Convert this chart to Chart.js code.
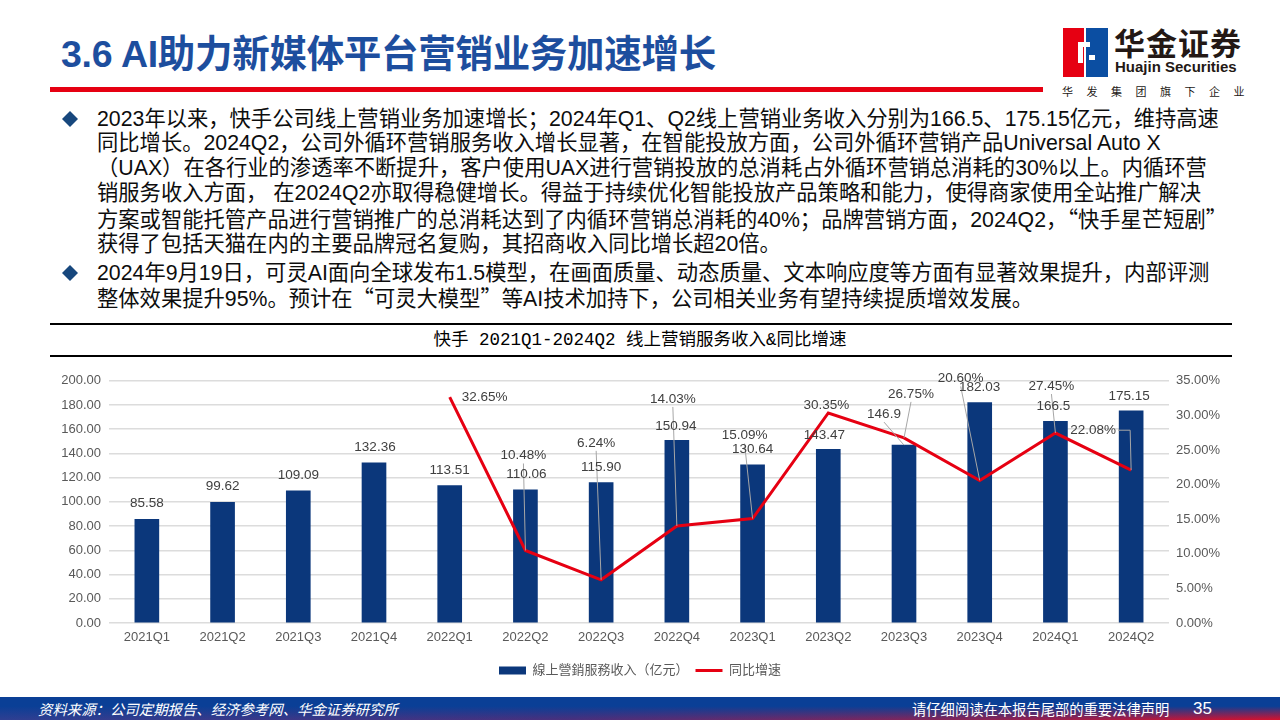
<!DOCTYPE html>
<html>
<head>
<meta charset="utf-8">
<script src="https://cdn.jsdelivr.net/npm/chart.js@4.4.0/dist/chart.umd.min.js"></script>
<style>
    body { margin: 0; width: 1280px; height: 720px; position: relative; overflow: hidden; background: #fff;
           font-family: "Liberation Sans", "Noto Sans CJK SC", sans-serif; }
    .title { position: absolute; left: 61px; top: 30px; font-size: 37.5px; font-weight: bold; color: #1d4e9e;
             line-height: 48px; white-space: nowrap; letter-spacing: -0.3px; }
    .redbar { position: absolute; left: 50px; top: 87px; width: 993px; height: 5px; background: #e60012; }
    .logo-r { position: absolute; left: 1063px; top: 28px; width: 21px; height: 49px; background: #e60012; }
    .logo-b { position: absolute; left: 1086px; top: 28px; width: 22px; height: 49px; background: #0b4ea2; }
    .logo-w1 { position: absolute; left: 1078px; top: 42px; width: 12px; height: 5px; background: #fff; }
    .logo-w2 { position: absolute; left: 1078px; top: 47px; width: 5px; height: 16px; background: #fff; }
    .logo-w3 { position: absolute; left: 1089px; top: 55px; width: 6px; height: 5px; background: #fff; }
    .logo-cn { position: absolute; left: 1114px; top: 24px; font-size: 31px; font-weight: bold; color: #231815;
               font-family: "Noto Sans CJK SC", sans-serif; line-height: 36px; letter-spacing: 1px; }
    .logo-en { position: absolute; left: 1115px; top: 58px; font-size: 15px; font-weight: bold; color: #231815;
               line-height: 18px; white-space: nowrap; }
    .logo-sub { position: absolute; left: 1062px; top: 83px; font-size: 11px; color: #231815; line-height: 16px;
                letter-spacing: 13.5px; white-space: nowrap; font-family: "Noto Sans CJK SC", sans-serif; }
    .text { position: absolute; left: 97px; font-size: 21.3px; line-height: 24.8px; color: #0d0d0d; white-space: nowrap; }
    .q { font-family: "Noto Sans CJK SC", sans-serif; }
    .bullet { position: absolute; left: 62px; width: 16px; height: 16px; }
    .rule { position: absolute; left: 50px; width: 1182px; height: 2px; background: #000; }
    .ctitle { position: absolute; left: 0; width: 1280px; top: 328px; text-align: center; font-size: 17.5px;
              line-height: 24px; color: #000; font-family: "Liberation Mono", "Noto Sans CJK SC", monospace; }
    .chart-box { position: absolute; left: 0; top: 365px; width: 1280px; height: 325px; }
    .footer { position: absolute; left: 0; top: 697px; width: 1280px; height: 23px;
              background: linear-gradient(to bottom, #0a3f96 0%, #0a3f96 40%, rgba(10,63,150,0) 100%),
                          linear-gradient(to right, #2f3f92 0%, #4b2f7c 45%, #8a2356 75%, #d8102c 100%); }
    .foot-l { position: absolute; left: 38px; top: 697px; font-size: 14.4px; line-height: 23px; color: #fff;
              font-style: italic; white-space: nowrap; font-family: "Noto Sans CJK SC", sans-serif; }
    .foot-r { position: absolute; left: 912px; top: 697px; font-size: 14.3px; line-height: 23px; color: #fff;
              white-space: nowrap; font-family: "Noto Sans CJK SC", sans-serif; }
    .page { position: absolute; left: 1193px; top: 697px; font-size: 17px; line-height: 23px; color: #fff; }
</style>
</head>
<body>
<div class="title">3.6 AI助力新媒体平台营销业务加速增长</div>
<div class="redbar"></div>
<div class="logo-r"></div><div class="logo-b"></div>
<div class="logo-w1"></div><div class="logo-w2"></div><div class="logo-w3"></div>
<div class="logo-cn">华金证券</div>
<div class="logo-en">Huajin Securities</div>
<div class="logo-sub">华发集团旗下企业</div>

<svg class="bullet" style="top:111px" viewBox="0 0 16 16"><path d="M8 0 L16 8 L8 16 L0 8 Z" fill="#17477d"/></svg>
<div class="text" style="top:106.5px">
    2023年以来，快手公司线上营销业务加速增长；2024年Q1、Q2线上营销业务收入分别为166.5、175.15亿元，维持高速<br>
    同比增长。2024Q2，公司外循环营销服务收入增长显著，在智能投放方面，公司外循环营销产品Universal Auto X<br>
    （UAX）在各行业的渗透率不断提升，客户使用UAX进行营销投放的总消耗占外循环营销总消耗的30%以上。内循环营<br>
    销服务收入方面， 在2024Q2亦取得稳健增长。得益于持续优化智能投放产品策略和能力，使得商家使用全站推广解决<br>
    方案或智能托管产品进行营销推广的总消耗达到了内循环营销总消耗的40%；品牌营销方面，2024Q2，<span class="q">“</span>快手星芒短剧<span class="q">”</span><br>
    获得了包括天猫在内的主要品牌冠名复购，其招商收入同比增长超20倍。
</div>
<svg class="bullet" style="top:265px" viewBox="0 0 16 16"><path d="M8 0 L16 8 L8 16 L0 8 Z" fill="#17477d"/></svg>
<div class="text" style="top:260.5px">
    2024年9月19日，可灵AI面向全球发布1.5模型，在画面质量、动态质量、文本响应度等方面有显著效果提升，内部评测<br>
    整体效果提升95%。预计在<span class="q">“</span>可灵大模型<span class="q">”</span>等AI技术加持下，公司相关业务有望持续提质增效发展。
</div>

<div class="rule" style="top:323px"></div>
<div class="ctitle">快手 2021Q1-2024Q2 线上营销服务收入&amp;同比增速</div>
<div class="rule" style="top:355px"></div>

<div class="chart-box"><canvas id="revChart"></canvas></div>

<div class="footer"></div>
<div class="foot-l">资料来源：公司定期报告、经济参考网、华金证券研究所</div>
<div class="foot-r">请仔细阅读在本报告尾部的重要法律声明</div>
<div class="page">35</div>

<script>
const quarters = ['2021Q1', '2021Q2', '2021Q3', '2021Q4', '2022Q1', '2022Q2', '2022Q3',
                  '2022Q4', '2023Q1', '2023Q2', '2023Q3', '2023Q4', '2024Q1', '2024Q2'];
// revenue as printed in the source (keeps 115.90 / 146.9 formatting)
const revenue = ['85.58', '99.62', '109.09', '132.36', '113.51', '110.06', '115.90',
                 '150.94', '130.64', '143.47', '146.9', '182.03', '166.5', '175.15'];
const growth = [null, null, null, null, 32.65, 10.48, 6.24, 14.03, 15.09, 30.35, 26.75, 20.60, 27.45, 22.08];

const revenueTicks = { min: 0, max: 200, step: 20 };
const growthTicks = { min: 0, max: 35, step: 5 };

// label placement relative to the mark (pixels)
const barLabelShift = [
    { dx: 0, dy: -16 }, { dx: 0, dy: -16 }, { dx: 0, dy: -16 }, { dx: 1, dy: -15 }, { dx: 0, dy: -15 },
    { dx: 1, dy: -15 }, { dx: 0, dy: -15 }, { dx: -1, dy: -14 }, { dx: 0, dy: -16 }, { dx: -4, dy: -14 },
    { dx: -20, dy: -31, leader: true }, { dx: 0, dy: -15 }, { dx: -2, dy: -15 }, { dx: -2, dy: -15 }
];
const lineLabelShift = [
    null, null, null, null,
    { dx: 35, dy: 0 },
    { dx: -2, dy: -95, leader: true },
    { dx: -5, dy: -137, leader: true },
    { dx: -4, dy: -127, leader: true },
    { dx: -8, dy: -83, leader: true },
    { dx: -2, dy: -8 },
    { dx: 7, dy: -44, leader: true },
    { dx: -19, dy: -102, leader: true },
    { dx: -4, dy: -47, leader: true },
    { dx: -38, dy: -40, leader: 'elbow' }
];

const labelFont = '13.5px "Liberation Sans", Arial, sans-serif';

const valueLabels = {
    id: 'valueLabels',
    afterDatasetsDraw(chart) {
        const ctx = chart.ctx;
        const items = [];
        chart.getDatasetMeta(0).data.forEach((el, i) => {
            items.push({ x: el.x, y: el.y, text: revenue[i], shift: barLabelShift[i] });
        });
        chart.getDatasetMeta(1).data.forEach((el, i) => {
            if (growth[i] === null) return;
            items.push({ x: el.x, y: el.y, text: growth[i].toFixed(2) + '%', shift: lineLabelShift[i] });
        });

        ctx.save();
        ctx.font = labelFont;
        ctx.strokeStyle = '#a6a6a6';
        ctx.lineWidth = 1;
        items.forEach(it => {
            if (!it.shift.leader) return;
            const lx = it.x + it.shift.dx;
            const ly = it.y + it.shift.dy;
            ctx.beginPath();
            if (it.shift.leader === 'elbow') {
                const w = ctx.measureText(it.text).width;
                ctx.moveTo(lx + w / 2 + 2, ly);
                ctx.lineTo(it.x - 1, ly);
                ctx.lineTo(it.x, it.y);
            } else {
                ctx.moveTo(lx, ly + 8);
                ctx.lineTo(it.x, it.y);
            }
            ctx.stroke();
        });

        ctx.fillStyle = '#404040';
        ctx.textAlign = 'center';
        ctx.textBaseline = 'middle';
        items.forEach(it => {
            ctx.fillText(it.text, it.x + it.shift.dx, it.y + it.shift.dy);
        });
        ctx.restore();
    }
};

const tickFont = { family: '"Liberation Sans", Arial, sans-serif', size: 13 };

const ctx = document.getElementById('revChart').getContext('2d');
const revChart = new Chart(ctx, {
    type: 'bar',
    data: {
        labels: quarters,
        datasets: [{
            type: 'bar',
            label: '線上營銷服務收入（亿元）',
            data: revenue.map(Number),
            backgroundColor: '#0b377b',
            barThickness: 24,
            yAxisID: 'y',
            order: 2,
            pointStyle: 'rect'
        }, {
            type: 'line',
            label: '同比增速',
            data: growth,
            borderColor: '#e60012',
            backgroundColor: '#e60012',
            borderWidth: 3,
            pointRadius: 0,
            tension: 0,
            yAxisID: 'y1',
            order: 1,
            pointStyle: 'line'
        }]
    },
    options: {
        responsive: true,
        maintainAspectRatio: false,
        animation: false,
        layout: { padding: { top: 15, bottom: 3, left: 0, right: 0 } },
        scales: {
            x: {
                grid: { display: false, drawTicks: false },
                border: { display: false },
                ticks: { color: '#595959', font: tickFont, padding: 7, maxRotation: 0 },
                afterFit: (scale) => { scale.height = 34; }
            },
            y: {
                position: 'left',
                min: revenueTicks.min,
                max: revenueTicks.max,
                grid: { color: '#dcdcdc', lineWidth: 1.5, drawTicks: false },
                border: { display: false },
                ticks: {
                    stepSize: revenueTicks.step,
                    color: '#595959',
                    font: tickFont,
                    padding: 8,
                    callback: (v) => v.toFixed(2)
                },
                afterFit: (scale) => { scale.width = 109; }
            },
            y1: {
                position: 'right',
                min: growthTicks.min,
                max: growthTicks.max,
                grid: { display: false, drawTicks: false },
                border: { display: false },
                ticks: {
                    stepSize: growthTicks.step,
                    color: '#595959',
                    font: tickFont,
                    padding: 7,
                    callback: (v) => v.toFixed(2) + '%'
                },
                afterFit: (scale) => { scale.width = 111; }
            }
        },
        plugins: {
            legend: {
                position: 'bottom',
                labels: {
                    usePointStyle: true,
                    pointStyleWidth: 27,
                    boxWidth: 27,
                    boxHeight: 8,
                    padding: 7,
                    color: '#595959',
                    font: { family: '"Liberation Sans", "Noto Sans CJK SC", sans-serif', size: 13 },
                    sort: (a, b) => a.datasetIndex - b.datasetIndex
                }
            },
            tooltip: { enabled: false }
        }
    },
    plugins: [valueLabels]
});
</script>
</body>
</html>
